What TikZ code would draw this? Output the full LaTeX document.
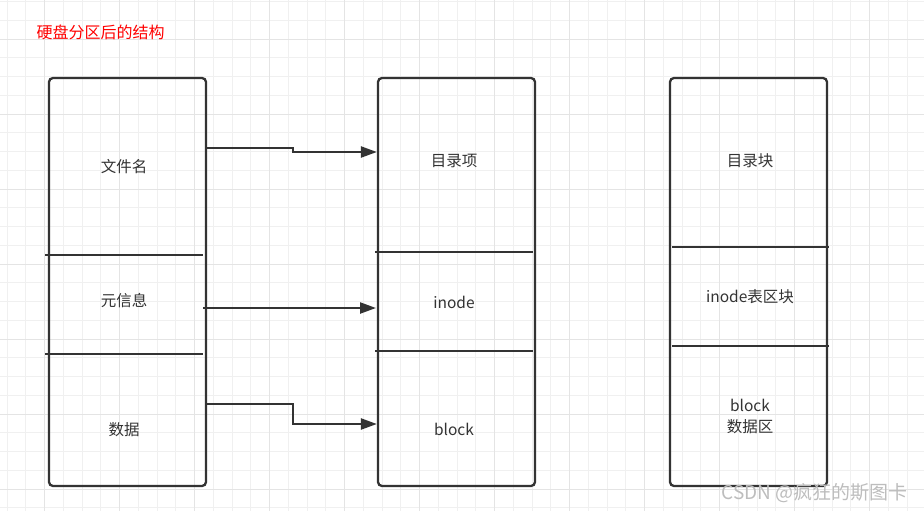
\documentclass[tikz,border=0pt]{standalone}
\usepackage{fontspec}
\newfontfamily\cjk{Noto Sans CJK SC}
\usetikzlibrary{arrows.meta}
\definecolor{ink}{HTML}{333333}
\definecolor{gridfine}{HTML}{F0F0F0}
\definecolor{gridbold}{HTML}{E4E4E4}
\definecolor{wmark}{HTML}{BDBDBD}
\begin{document}
\begin{tikzpicture}[x=1pt,y=-1pt,
		every node/.style={font=\cjk\fontsize{15.5}{21}\selectfont, text=ink, align=center},
		part/.style={draw=ink, line width=2.3pt, rounded corners=4pt,
			minimum width=157pt, minimum height=408pt, inner sep=0pt},
		sep/.style={draw=ink, line width=2.3pt},
		conn/.style={draw=ink, line width=2.3pt, -{Triangle[length=16pt,width=11pt]}}]
	% background grid
	\fill[white] (0,0) rectangle (924,511);
	\useasboundingbox (0,0) rectangle (924,511);
	\foreach \i in {0,...,49}
		\draw[gridfine, line width=1pt] ({7+18.75*\i},0) -- ({7+18.75*\i},511);
	\foreach \i in {0,...,27}
		\draw[gridfine, line width=1pt] (0,{1.7+18.75*\i}) -- (924,{1.7+18.75*\i});
	\foreach \i in {0,...,12}
		\draw[gridbold, line width=1pt] ({44.5+75*\i},0) -- ({44.5+75*\i},511);
	\foreach \i in {0,...,6}
		\draw[gridbold, line width=1pt] (0,{39.2+75*\i}) -- (924,{39.2+75*\i});

	\node[text=red, anchor=west, font=\cjk\fontsize{16}{18}\selectfont] (title) at (33,32) {硬盘分区后的结构};

	% the three columns
	\node[part] (file) at (127.5,282) {};
	\node[part] (fs) at (456.5,282) {};
	\node[part] (disk) at (748.5,282) {};

	\draw[sep] (45,255) -- (203,255);
	\draw[sep] (45,354) -- (203,354);
	\draw[sep] (375,252) -- (533,252);
	\draw[sep] (375,351) -- (533,351);
	\draw[sep] (672,247) -- (829,247);
	\draw[sep] (672,346) -- (829,346);

	\node (name) at (124,167) {文件名};
	\node (meta) at (124,301) {元信息};
	\node (data) at (124,430) {数据};
	\node (dent) at (454,161) {目录项};
	\node (inode) at (454,302) {inode};
	\node (block) at (454,429) {block};
	\node (dblk) at (750,161) {目录块};
	\node (itab) at (750,297) {inode表区块};
	\node (darea) at (750,416) {block\\数据区};

	% links
	\coordinate (n1) at (file.east |- 0,148);
	\coordinate (n2) at (fs.west |- 0,152);
	\coordinate (m1) at (203,308);
	\coordinate (m2) at (376,308);
	\coordinate (d1) at (file.east |- 0,404);
	\coordinate (d2) at (fs.west |- 0,424);
	\draw[conn] (n1) -- ++(86,0) |- (n2);
	\draw[conn] (m1) -- (m2);
	\draw[conn] (d1) -- ++(86,0) |- (d2);

	\node[text=wmark, anchor=east, font=\cjk\fontsize{19}{20}\selectfont] (mark) at (911,493) {CSDN @疯狂的斯图卡};
\end{tikzpicture}
\end{document}
